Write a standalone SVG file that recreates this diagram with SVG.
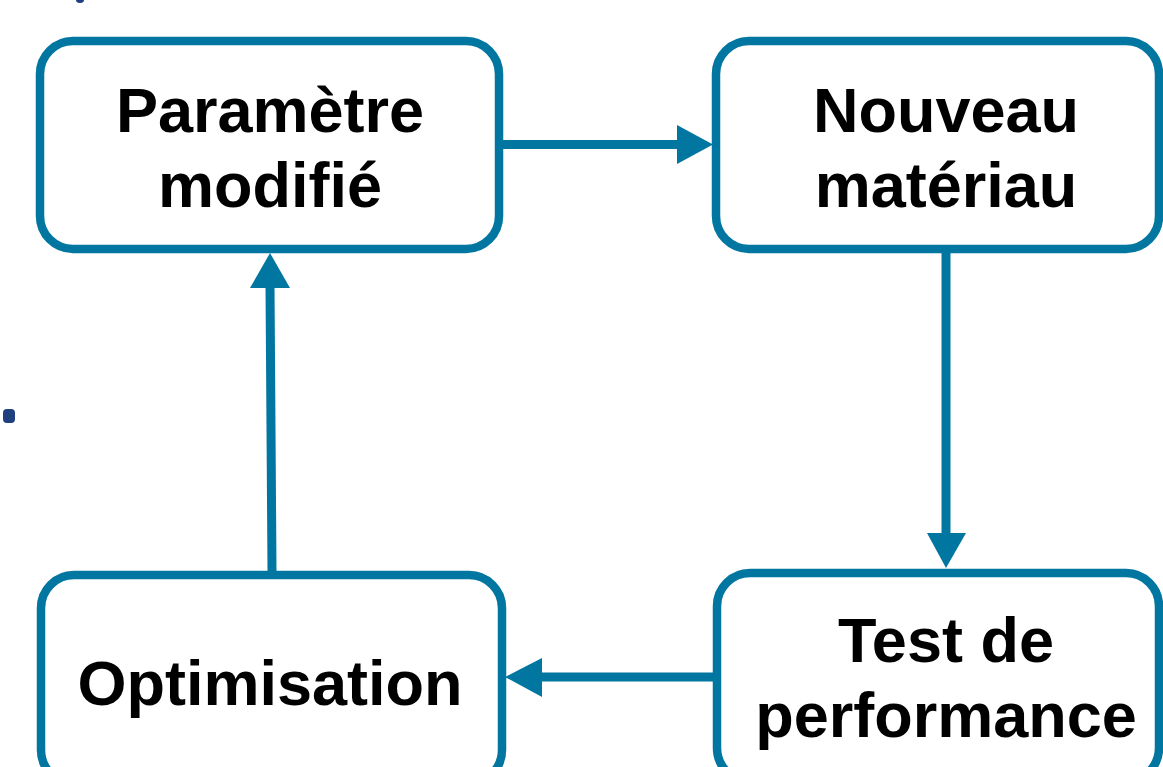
<svg xmlns="http://www.w3.org/2000/svg" width="1163" height="767" viewBox="0 0 1163 767">
<style>
.box{fill:#fff;stroke:#0176A0;stroke-width:8.5}
.lbl{font-family:"Liberation Sans",Arial,sans-serif;font-weight:bold;font-size:63px;fill:#000;text-anchor:middle}
.ln{stroke:#0176A0;stroke-width:9;fill:none}
.hd{fill:#0176A0}
</style>
<rect width="1163" height="767" fill="#fff"/>
<ellipse cx="80" cy="0" rx="4" ry="3" fill="#1F3F7F"/>
<rect x="3" y="409" width="12" height="14" rx="4" fill="#1F3F7F"/>
<g id="connectors">
<line class="ln" x1="503" y1="144.5" x2="680" y2="144.5"/>
<polygon class="hd" points="677,125 713,144.5 677,164"/>
<line class="ln" x1="946" y1="253" x2="946" y2="536"/>
<polygon class="hd" points="927,533 946,568 966,533"/>
<line class="ln" x1="713" y1="677" x2="539" y2="677"/>
<polygon class="hd" points="542,658 505,677 542,697"/>
<line class="ln" x1="272" y1="571" x2="270" y2="285"/>
<polygon class="hd" points="250,288 270,253 290,288"/>
</g>
<g id="node-parametre">
<rect class="box" x="40" y="41" width="459" height="208" rx="33"/>
<text class="lbl" x="270" y="132">Paramètre</text>
<text class="lbl" x="270" y="207">modifié</text>
</g>
<g id="node-nouveau">
<rect class="box" x="716" y="41" width="443" height="208" rx="33"/>
<text class="lbl" x="946" y="132">Nouveau</text>
<text class="lbl" x="946" y="207">matériau</text>
</g>
<g id="node-test">
<rect class="box" x="717" y="573" width="442" height="208" rx="33"/>
<text class="lbl" x="946" y="662">Test de</text>
<text class="lbl" x="946" y="737">performance</text>
</g>
<g id="node-optimisation">
<rect class="box" x="41" y="575" width="461" height="208" rx="33"/>
<text class="lbl" x="270" y="705">Optimisation</text>
</g>
</svg>
